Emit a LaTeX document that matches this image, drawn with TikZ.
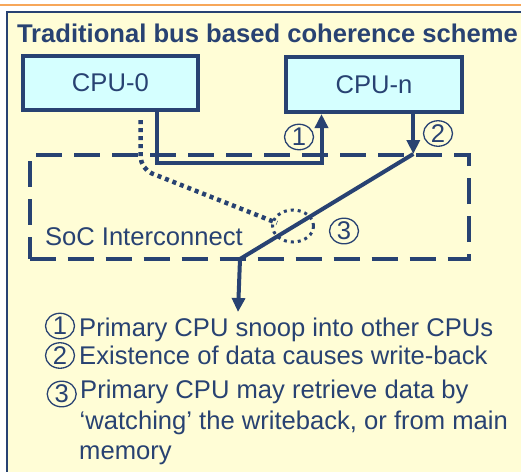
\documentclass[tikz,border=0pt]{standalone}
\usepackage{fontspec}
\setmainfont{Liberation Sans}
\usetikzlibrary{arrows.meta,shapes.geometric}
\definecolor{navy}{RGB}{40,66,114}
\definecolor{panelyellow}{RGB}{255,253,214}
\definecolor{cpucyan}{RGB}{213,255,255}
\definecolor{rulecol}{RGB}{247,167,90}
\begin{document}
\begin{tikzpicture}[x=1pt,y=-1pt,
  bigfont/.style={font=\fontsize{25.6}{30}\selectfont},
  txt/.style={bigfont,text=navy,inner sep=0pt,anchor=base west},
  cpubox/.style={bigfont,draw=navy,fill=cpucyan,line width=4pt,text=navy,inner sep=0pt},
  socbox/.style={draw=navy,line width=4pt,dash pattern=on 26pt off 12pt,inner sep=0pt,
    minimum width=439pt,minimum height=104pt},
  wire/.style={draw=navy,line width=4pt},
  tip/.style={-{Triangle[width=13pt,length=14pt]}},
  dotwire/.style={draw=navy,line width=4.5pt,dash pattern=on 4pt off 4pt,rounded corners=12pt},
  num/.style={bigfont,ellipse,draw=navy,line width=1.3pt,text=navy,inner sep=0pt,
    minimum width=29pt,minimum height=25.5pt}]
\useasboundingbox (0,0) rectangle (521,471);
\clip (0,0) rectangle (521,471);

% page rule and slide panel
\draw[rulecol,line width=2pt] (0,5) -- (521,5);
\filldraw[fill=panelyellow,draw=navy,line width=1.5pt] (6.8,11.8) rectangle (540,490);

\node[txt,font=\fontsize{25.6}{30}\selectfont\bfseries] (title) at (16.8,42.7)
  {Traditional bus based coherence scheme};

% interconnect and processors
\node[socbox] (soc) at (249.1,207) {};
\node[txt] (soclabel) at (44.8,245.7) {SoC Interconnect};
\node[cpubox,minimum width=175.3pt,minimum height=54pt] (cpu0) at (110.4,83) {CPU-0};
\node[cpubox,minimum width=176pt,minimum height=55pt] (cpun) at (374,84.5) {CPU-n};

% (1) snoop from CPU-0 to CPU-n
\coordinate (j0) at (157.3,163);
\coordinate (j1) at (321.5,163);
\draw[wire,tip] (cpu0.south -| j0) -- (j0) -- (j1) -- (cpun.south -| j1);

% (2) write-back from CPU-n through the interconnect
\coordinate (w0) at (413.3,154);
\coordinate (w1) at (240,259);
\coordinate (w2) at (238,312);
\draw[wire,tip] (cpun.south -| w0) -- (w0);
\draw[wire,tip] (w0) -- (w1) -- (w2);

% (3) CPU-0 watching the write-back
\coordinate (d1) at (140.7,169);
\coordinate (d2) at (277,223);
\draw[dotwire,shorten <=8pt] (cpu0.south -| d1) -- (d1) -- (d2);
\node[ellipse,draw=navy,line width=3pt,dash pattern=on 3pt off 4pt,
  minimum width=41pt,minimum height=32pt,inner sep=0pt] (tap) at (293,226) {};

% step markers in the diagram
\node[num] (n1) at (299,137) {1};
\node[num] (n2) at (438,133.5) {2};
\node[num] (n3) at (344,231) {3};

% legend
\node[num] (k1) at (60,326) {1};
\node[num] (k2) at (60,355.5) {2};
\node[num] (k3) at (61.7,394) {3};
\node[txt] (l1) at (79,336.5) {Primary CPU snoop into other CPUs};
\node[txt] (l2) at (79,364) {Existence of data causes write-back};
\node[txt] (l3) at (80,398.3) {Primary CPU may retrieve data by};
\node[txt] (l4) at (79.5,429) {‘watching’ the writeback, or from main};
\node[txt] (l5) at (79,459) {memory};
\end{tikzpicture}
\end{document}
